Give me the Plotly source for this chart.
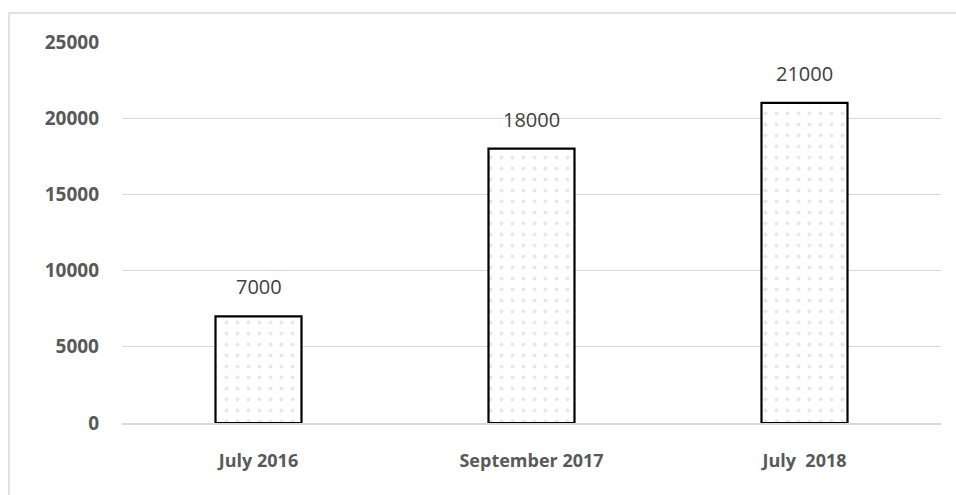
import plotly.graph_objects as go

categories = ["July 2016", "September 2017", "July  2018"]
values = [7000, 18000, 21000]
y_ticks = [0, 5000, 10000, 15000, 20000, 25000]
y_tick_labels = ["0", "5000", "10000", "15000", "20000", "25000"]

W, H = 956, 495
ml, mr, mt, mb = 122, 15, 42, 72
pw, ph = W - ml - mr, H - mt - mb

fig = go.Figure()
fig.add_trace(go.Bar(
    x=categories,
    y=values,
    marker=dict(
        color="white",
        line=dict(color="black", width=2.2),
        pattern=dict(shape=".", fgcolor="#cfcfcf", bgcolor="white", size=11, solidity=0.1),
    ),
    width=0.315,
))

for c, v in zip(categories, values):
    fig.add_annotation(
        x=c, y=v, text=str(v), showarrow=False,
        yanchor="bottom", yshift=14,
        font=dict(family="Open Sans", size=20, color="#404040"),
    )

fig.update_layout(
    width=W, height=H,
    margin=dict(l=ml, r=mr, t=mt, b=mb),
    paper_bgcolor="white",
    plot_bgcolor="white",
    showlegend=False,
    font=dict(family="Open Sans"),
    xaxis=dict(
        showgrid=False,
        showline=True,
        linecolor="#d9d9d9",
        linewidth=1.5,
        ticks="",
        ticklabelstandoff=21,
        tickfont=dict(family="Open Sans", size=18, color="#595959", weight="bold"),
    ),
    yaxis=dict(
        range=[0, 25000],
        tickvals=y_ticks,
        ticktext=y_tick_labels,
        showgrid=True,
        gridcolor="#d9d9d9",
        gridwidth=1,
        zeroline=False,
        showline=False,
        ticks="",
        ticklabelstandoff=22,
        tickfont=dict(family="Open Sans", size=19, color="#595959", weight="bold"),
    ),
    shapes=[dict(
        type="rect", xref="paper", yref="paper",
        x0=(9 - ml) / pw, x1=1.2,
        y0=-0.4, y1=1 + (mt - 13) / ph,
        line=dict(color="#d9d9d9", width=1.5),
        fillcolor="rgba(0,0,0,0)",
        layer="below",
    )],
)

fig.write_html("out.html")
